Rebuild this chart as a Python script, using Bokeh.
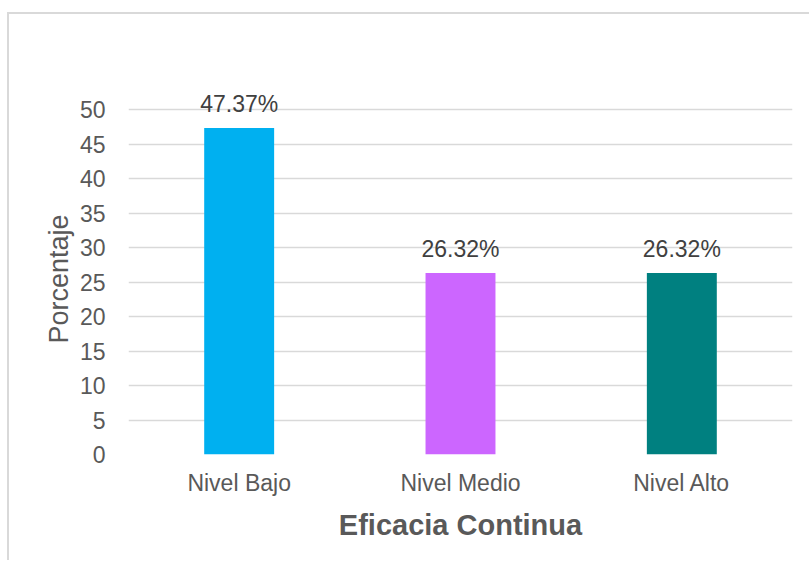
from bokeh.plotting import figure
from bokeh.models import FactorRange, Range1d, FixedTicker, ColumnDataSource, LabelSet, Title
from bokeh.core.properties import value
from bokeh.embed import file_html
from bokeh.resources import INLINE

categories = ["Nivel Bajo", "Nivel Medio", "Nivel Alto"]
values = [47.37, 26.32, 26.32]
colors = ["#00B0F0", "#CC66FF", "#008080"]
y_ticks = [0, 5, 10, 15, 20, 25, 30, 35, 40, 45, 50]
x_title = "Eficacia Continua"
y_title = "Porcentaje"

labels = [f"{v:.2f}%" for v in values]
src = ColumnDataSource(dict(x=categories, top=values, color=colors, label=labels))

FONT = "Liberation Sans"

p = figure(
    width=802, height=548,
    x_range=FactorRange(*categories, range_padding=0),
    y_range=Range1d(0, 62.97),
    output_backend="svg", toolbar_location=None,
    min_border_left=119, min_border_right=19, min_border_top=6, min_border_bottom=108,
)
p.styles = {
    "margin-left": "7px", "margin-top": "12px",
    "border-left": "2px solid #d9d9d9", "border-top": "2px solid #d9d9d9",
}
p.outline_line_color = None
p.background_fill_color = "white"
p.border_fill_color = "white"

p.vbar(x="x", top="top", width=0.316, color="color", line_color=None, source=src)

p.add_layout(LabelSet(x="x", y="top", text="label", source=src, y_offset=16,
                      text_align="center", text_baseline="alphabetic",
                      text_font=value(FONT), text_font_size="23px", text_color="#404040"))

p.xgrid.grid_line_color = None
p.ygrid.grid_line_color = "#d9d9d9"
p.ygrid.grid_line_width = 1.3
p.yaxis.ticker = FixedTicker(ticks=y_ticks)

for ax in (p.xaxis[0], p.yaxis[0]):
    ax.axis_line_color = None
    ax.major_tick_line_color = None
    ax.minor_tick_line_color = None
    ax.major_label_text_font = FONT
    ax.major_label_text_font_size = "23px"
    ax.major_label_text_color = "#595959"
    ax.axis_label_text_font = FONT
    ax.axis_label_text_color = "#595959"

p.yaxis.major_label_standoff = 17
p.xaxis.major_label_standoff = 9

p.xaxis.axis_label = x_title
p.xaxis.axis_label_text_font_style = "bold"
p.xaxis.axis_label_text_font_size = "29px"
p.xaxis.axis_label_standoff = 10

ytitle = Title(text=y_title, align="left", offset=111, standoff=6,
               text_font=FONT, text_font_size="27px", text_font_style="normal",
               text_color="#595959")
p.add_layout(ytitle, "left")

open("out.html", "w").write(file_html(p, INLINE))
